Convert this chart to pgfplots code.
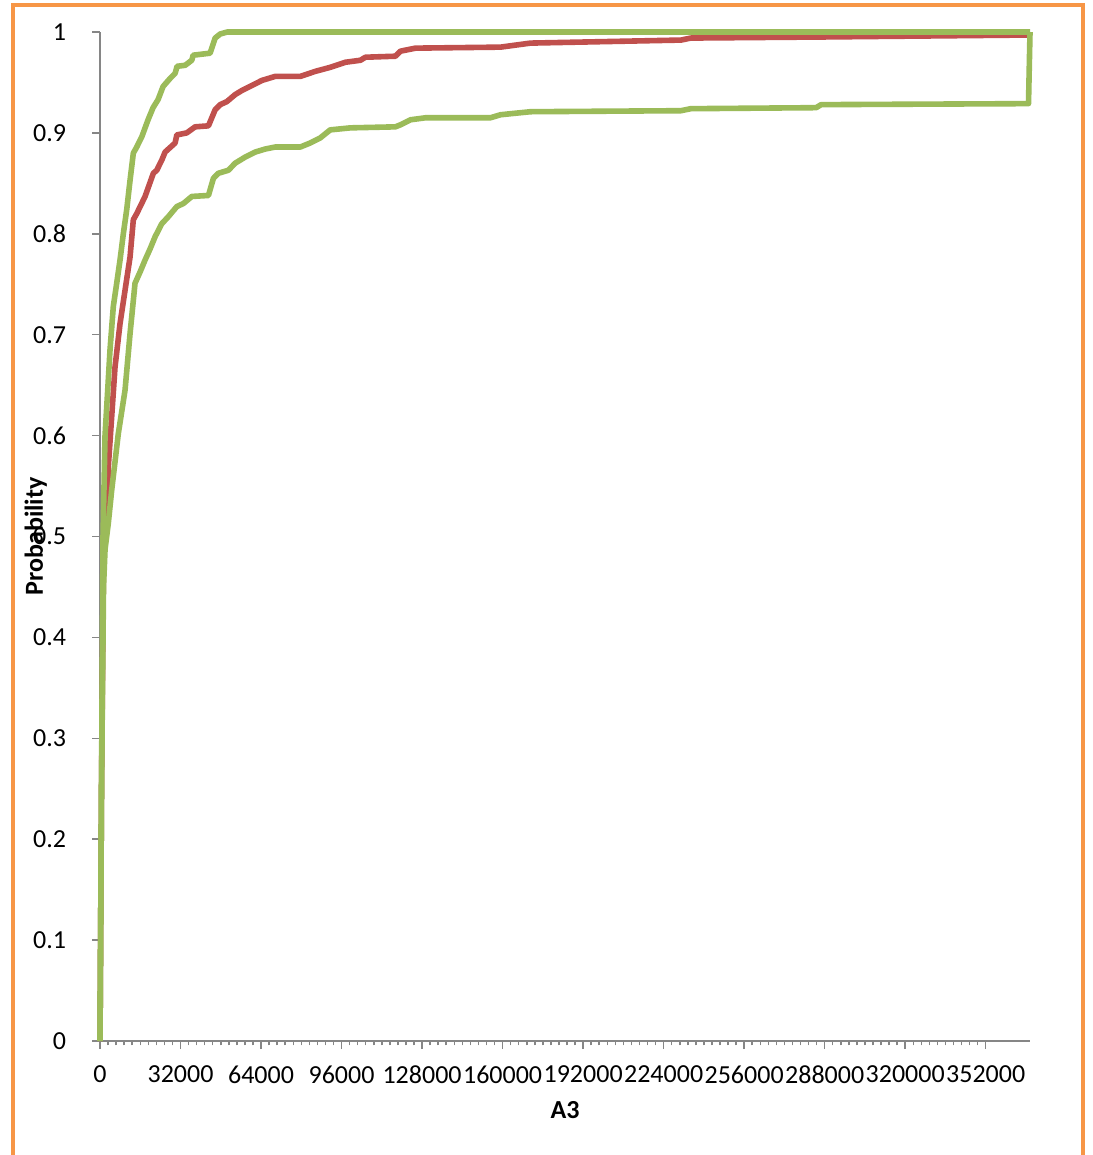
\documentclass[border=0pt]{standalone}
\usepackage{fontspec}
\setmainfont{Carlito}
\usepackage{pgfplots}
\pgfplotsset{compat=1.18}
\definecolor{xlred}{HTML}{C0504D}
\definecolor{xlgreen}{HTML}{9BBB59}
\definecolor{xlorange}{HTML}{F79646}
\definecolor{xlgray}{HTML}{868686}
\begin{document}
\begin{tikzpicture}
% page: 1092x1155 px at 0.5pt per px
\useasboundingbox (0,0) rectangle (546pt,-577.5pt);
\fill[white] (0,0) rectangle (546pt,-577.5pt);
\draw[xlorange, line width=2pt] (6.25pt,-2.65pt) rectangle (541.7pt,-600pt);
\begin{axis}[
  at={(50pt,-520.5pt)}, anchor=south west,
  scale only axis,
  width=465pt, height=504.5pt,
  xmin=0, xmax=369600,
  ymin=0, ymax=1,
  xtick={0,32000,...,352000},
  minor x tick num=9,
  ytick={0,0.1,...,1},
  axis x line*=bottom,
  axis y line*=left,
  axis line style={xlgray, line width=0.75pt, -},
  every tick/.style={xlgray, line width=0.75pt},
  tick align=outside,
  major tick length=4pt,
  minor tick length=2.2pt,
  scaled x ticks=false,
  /pgf/number format/assume math mode=true,
  xticklabel style={/pgf/number format/fixed, /pgf/number format/1000 sep={}, yshift=-5pt},
  yticklabel style={/pgf/number format/fixed, /pgf/number format/precision=1, xshift=-9.4pt},
  tick label style={font=\fontsize{13}{15}\selectfont},
  xlabel={A3},
  ylabel={Probability},
  label style={font=\fontsize{13}{15}\selectfont\bfseries},
  xlabel style={at={(axis description cs:0.5,-0.068)}, anchor=center},
  ylabel style={at={(axis description cs:-0.069,0.5)}, anchor=center},
  clip=false,
  every axis plot/.append style={no marks, line width=2.8pt, line join=round},
]
% empirical CDF
\addplot[xlred] coordinates {
  (0,0) (600,0.25) (1400,0.48) (2670,0.519) (3300,0.569) (4650,0.619)
  (5970,0.668) (7960,0.711) (9950,0.744) (11940,0.777) (13250,0.814)
  (14600,0.820) (17910,0.837) (21200,0.860) (22560,0.863) (24550,0.873)
  (25870,0.881) (29850,0.890) (30530,0.898) (34470,0.900) (37800,0.906)
  (43100,0.907) (45770,0.923) (47760,0.928) (50400,0.931) (53730,0.938)
  (56370,0.942) (60370,0.947) (64330,0.952) (69640,0.956) (79600,0.956)
  (85570,0.961) (91540,0.965) (97500,0.970) (103500,0.972) (105500,0.975)
  (117400,0.976) (119400,0.981) (125400,0.984) (159200,0.985) (171100,0.989)
  (230900,0.992) (234800,0.994) (284600,0.995) (368800,0.997)
};
% upper band
\addplot[xlgreen] coordinates {
  (0,0) (600,0.25) (1200,0.50) (2000,0.60) (3060,0.645) (3980,0.685)
  (5290,0.728) (6640,0.751) (7960,0.774) (9270,0.800) (10620,0.824)
  (11940,0.853) (13250,0.880) (14600,0.886) (16590,0.896) (19100,0.913)
  (21090,0.925) (23080,0.933) (25070,0.946) (27860,0.954) (29850,0.959)
  (30640,0.966) (33830,0.967) (36490,0.972) (37000,0.977) (43760,0.979)
  (45770,0.994) (47760,0.998) (50550,1.0) (369600,1.0)
};
% lower band
\addplot[xlgreen] coordinates {
  (0,0) (600,0.25) (1400,0.45) (2000,0.487) (3300,0.513) (4650,0.546)
  (7280,0.602) (9950,0.645) (11940,0.701) (13920,0.751) (15900,0.762)
  (17910,0.774) (19900,0.785) (21880,0.797) (24550,0.810) (27170,0.817)
  (30530,0.827) (33140,0.830) (36490,0.837) (43100,0.838) (45070,0.855)
  (47060,0.860) (51030,0.863) (53730,0.870) (57680,0.876) (61660,0.881)
  (65640,0.884) (69640,0.886) (79600,0.886) (83540,0.890) (87520,0.895)
  (91500,0.903) (99500,0.905) (117400,0.906) (119400,0.908) (123400,0.913)
  (129400,0.915) (155200,0.915) (159200,0.918) (171100,0.921) (230900,0.922)
  (234800,0.924) (284600,0.925) (286600,0.928) (369000,0.929) (369600,1.0)
};
\end{axis}
\end{tikzpicture}
\end{document}
